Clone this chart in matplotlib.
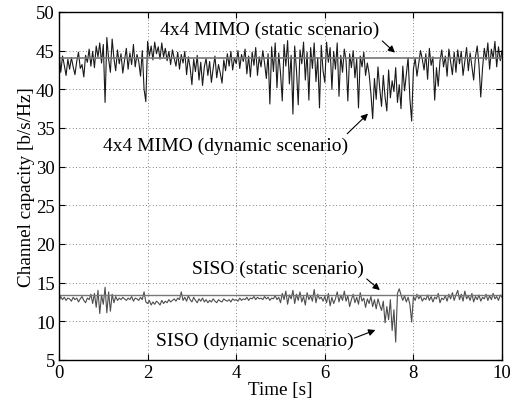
import numpy as np
import matplotlib
matplotlib.use("Agg")
import matplotlib.pyplot as plt

plt.rcParams['font.family'] = ['Liberation Serif', 'DejaVu Serif']

time_step = 0.04
mimo_dynamic = [
    45.0, 42.2, 44.3, 43.1, 41.8, 43.9, 42.6, 44.1, 42.9, 41.9, 43.6, 44.8, 42.7, 43.2, 41.6, 44.4, 43.5, 45.2, 43.0, 44.9, 42.8, 45.6, 44.2, 46.0, 43.4,
    45.8, 38.3, 46.7, 43.9, 42.2, 46.5, 44.0, 42.4, 45.1, 43.3, 44.6, 42.1, 43.8, 45.3, 42.6, 44.7, 43.2, 45.8, 42.9, 44.5, 43.6, 41.7, 45.0, 40.0, 38.4,
    46.2, 44.3, 45.6, 43.8, 46.1, 44.6, 45.5, 43.9, 46.0, 44.2, 45.3, 43.7, 44.9, 43.2, 45.1, 44.0, 43.0, 44.8, 42.6, 44.5, 43.4, 44.9, 41.9, 44.2, 42.8,
    40.6, 43.9, 42.3, 44.4, 41.2, 43.5, 40.5, 42.9, 44.0, 41.8, 43.6, 40.9, 42.7, 44.3, 41.5, 43.2, 42.1, 40.8, 43.8, 42.4, 44.6, 43.0, 44.9, 42.5, 44.1,
    43.3, 45.0, 42.7, 44.5, 43.6, 45.2, 42.0, 44.3, 41.6, 44.8, 43.1, 45.4, 41.8, 44.2, 42.9, 45.0, 43.4, 41.4, 44.6, 38.1, 45.5, 42.3, 46.0, 40.2, 44.7,
    42.1, 38.5, 45.8, 43.0, 46.3, 40.7, 44.4, 36.8, 45.6, 42.5, 38.0, 45.1, 43.3, 46.1, 41.2, 44.8, 38.6, 45.4, 42.7, 46.0, 41.0, 44.1, 37.6, 45.7, 42.4,
    40.9, 46.1, 43.5, 45.4, 40.0, 44.9, 42.6, 46.0, 39.1, 44.4, 42.2, 45.2, 43.7, 38.5, 44.6, 42.8, 45.0, 41.5, 43.9, 37.6, 44.3, 42.9, 44.8, 41.8, 43.4,
    42.0, 39.5, 36.2, 41.4, 38.7, 42.9, 40.1, 37.8, 41.8, 39.0, 37.2, 42.5, 38.9, 41.1, 39.7, 42.8, 38.3, 40.6, 37.5, 43.0, 39.8, 41.9, 44.1, 38.8, 35.9,
    42.6, 44.0, 41.7, 43.4, 45.0, 43.9, 42.5, 44.6, 41.3, 45.3, 43.1, 44.2, 38.6, 42.8, 40.4, 43.7, 45.1, 42.9, 44.3, 41.7, 45.2, 43.6, 41.9, 44.8, 42.2,
    45.1, 43.3, 44.9, 41.8, 43.6, 45.4, 42.4, 44.7, 43.0, 41.2, 44.2, 45.6, 43.1, 39.0, 42.7, 45.3, 43.8, 46.0, 42.6, 45.2, 44.0, 46.2, 42.9, 45.5, 43.7,
    45.0,
]
siso_dynamic = [
    12.6, 13.2, 12.8, 13.1, 12.7, 13.0, 12.9, 12.6, 13.1, 12.8, 13.0, 12.5, 12.9, 13.2, 12.7, 12.4, 13.0, 12.8, 13.5, 12.3, 13.6, 11.8, 14.0, 11.0, 13.4,
    12.2, 14.4, 11.1, 13.8, 11.3, 13.5, 12.4, 13.2, 12.7, 13.0, 12.8, 13.1, 12.9, 12.7, 13.0, 12.8, 13.2, 12.6, 13.0, 12.9, 12.7, 13.1, 12.8, 13.8, 12.5,
    12.3, 12.7, 12.1, 12.5, 12.2, 12.6, 12.4, 12.1, 12.7, 12.3, 12.6, 12.4, 12.8, 12.5, 12.7, 12.9, 12.6, 13.0, 12.8, 13.8, 12.7, 13.1, 12.6, 13.3, 12.8,
    12.5, 13.1, 12.7, 12.4, 12.9, 12.6, 13.0, 12.5, 12.8, 12.4, 12.7, 12.5, 12.9, 12.6, 12.4, 12.8, 12.6, 12.5, 12.9, 12.7, 12.6, 12.8, 12.5, 12.9, 12.7,
    12.8, 12.6, 13.0, 12.7, 12.9, 12.8, 13.1, 12.7, 13.0, 12.9, 13.2, 12.8, 13.1, 12.9, 13.0, 12.8, 13.2, 12.9, 13.1, 12.7, 13.0, 12.9, 13.3, 12.8, 13.1,
    12.4, 13.6, 12.8, 13.9, 12.2, 13.4, 12.9, 14.0, 12.3, 13.5, 12.7, 13.8, 12.5, 13.2, 12.1, 13.7, 12.8, 13.3, 12.6, 14.1, 12.4, 13.5, 12.9, 13.1, 12.6,
    13.2, 12.4, 13.6, 12.0, 13.1, 12.3, 12.9, 13.8, 12.5, 13.4, 12.7, 13.9, 12.6, 13.3, 11.9, 12.8, 13.5, 12.4, 13.1, 12.2, 13.7, 12.6, 13.0, 11.8, 12.9,
    12.3, 13.2, 11.9, 12.8, 11.6, 12.9, 12.1, 11.4, 12.6, 9.8, 11.9, 10.2, 12.8, 8.8, 11.5, 7.3, 13.6, 14.2, 13.4, 12.7, 13.3, 12.5, 13.1, 12.2, 9.9,
    13.2, 12.7, 13.5, 12.9, 13.3, 12.6, 13.0, 12.8, 13.4, 12.7, 13.2, 12.5, 13.1, 12.9, 13.6, 12.4, 13.0, 12.8, 13.3, 12.6, 13.5, 12.9, 13.7, 12.7, 13.4,
    14.0, 12.8, 13.5, 12.6, 13.9, 12.9, 13.3, 12.7, 13.6, 12.5, 13.2, 12.8, 13.4, 12.6, 13.1, 12.9, 13.5, 12.7, 13.3, 12.8, 13.6, 12.9, 13.2, 12.7, 13.4,
    13.1,
]
static_time = [0, 10]
mimo_static = [44.1, 44.1]
siso_static = [13.45, 13.45]

x_ticks = [0, 2, 4, 6, 8, 10]
y_ticks = [5, 10, 15, 20, 25, 30, 35, 40, 45, 50]

t_mimo = np.arange(len(mimo_dynamic)) * time_step
t_siso = np.arange(len(siso_dynamic)) * time_step

fig = plt.figure(figsize=(5.13, 4.06), dpi=100)
ax = fig.add_axes([0.115, 0.111, 0.8636, 0.857])

ax.plot(t_mimo, mimo_dynamic, color='#1a1a1a', lw=0.8)
ax.plot(static_time, mimo_static, color='#777777', lw=1.2)
ax.plot(t_siso, siso_dynamic, color='#4d4d4d', lw=0.8)
ax.plot(static_time, siso_static, color='#777777', lw=1.0)

ax.set_xlim(0, 10)
ax.set_ylim(5, 50)
ax.set_xticks(x_ticks)
ax.set_yticks(y_ticks)
ax.tick_params(direction='in', top=True, right=True, labelsize=13.5, length=4, width=0.8, pad=3)
ax.grid(True, linestyle=(0, (1, 3)), color='#555555', lw=0.6)
for s in ax.spines.values():
    s.set_linewidth(1.0)

ax.set_xlabel('Time [s]', fontsize=13.8, labelpad=0)
ax.set_ylabel('Channel capacity [b/s/Hz]', fontsize=13.8, labelpad=1)

ap = dict(arrowstyle='-|>', color='black', lw=0.8, mutation_scale=10)
fs = 14
ax.text(4.76, 47.8, '4x4 MIMO (static scenario)', ha='center', va='center', fontsize=fs)
ax.annotate('', xy=(7.63, 44.5), xytext=(7.25, 46.5), arrowprops=ap)
ax.text(3.77, 32.7, '4x4 MIMO (dynamic scenario)', ha='center', va='center', fontsize=fs)
ax.annotate('', xy=(7.02, 37.1), xytext=(6.46, 34.0), arrowprops=ap)
ax.text(4.95, 16.8, 'SISO (static scenario)', ha='center', va='center', fontsize=fs)
ax.annotate('', xy=(7.29, 13.8), xytext=(6.9, 15.7), arrowprops=ap)
ax.text(4.42, 7.5, 'SISO (dynamic scenario)', ha='center', va='center', fontsize=fs)
ax.annotate('', xy=(7.2, 9.0), xytext=(6.61, 7.7), arrowprops=ap)

fig.savefig('out.png', dpi=100)
